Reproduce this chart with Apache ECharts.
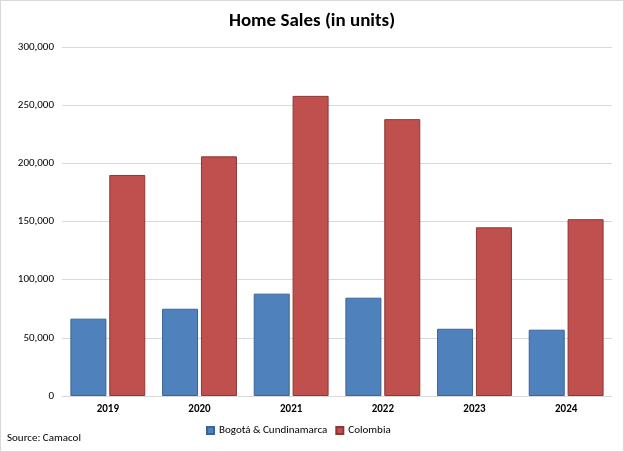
<!DOCTYPE html>
<html><head><meta charset="utf-8">
<script src="https://cdn.jsdelivr.net/npm/echarts@6/dist/echarts.min.js"></script>
<style>html,body{margin:0;padding:0;background:#fff}#c{width:622px;height:450px;border:1px solid #d9d9d9}</style>
</head><body><div id="c"></div>
<script>
const categories=['2019','2020','2021','2022','2023','2024'];
const bogota=[66500,75000,88000,84500,57800,57000];
const colombia=[190000,206000,258000,238000,145000,152000];
const chart=echarts.init(document.getElementById('c'));
const f='Calibri, Carlito, "Liberation Sans", sans-serif';
chart.setOption({
 animation:false,
 title:{text:'Home Sales (in units)',left:'center',top:6,textStyle:{fontFamily:f,fontSize:19,fontWeight:'bold',color:'#000'}},
 grid:{left:61,right:11,top:46,bottom:55},
 legend:{bottom:10,left:200,itemWidth:7,itemHeight:7,icon:'rect',textStyle:{fontFamily:f,fontSize:11,color:'#000'}},
 graphic:[{type:'text',left:6,bottom:7,style:{text:'Source: Camacol',fontFamily:f,fontSize:11,fill:'#000'}}],
 xAxis:{type:'category',data:categories,axisTick:{show:false},axisLine:{lineStyle:{color:'#d9d9d9'}},axisLabel:{fontFamily:f,fontSize:11,fontWeight:'bold',color:'#000'}},
 yAxis:{type:'value',min:0,max:300000,interval:50000,axisLabel:{fontFamily:f,fontSize:11,color:'#000',formatter:v=>v.toLocaleString('en-US')},splitLine:{lineStyle:{color:'#d9d9d9'}}},
 series:[
  {name:'Bogotá & Cundinamarca',type:'bar',data:bogota,barWidth:36,barGap:'8%',itemStyle:{color:'#4F81BD',borderColor:'#3A6496',borderWidth:1}},
  {name:'Colombia',type:'bar',data:colombia,barWidth:36,itemStyle:{color:'#C0504D',borderColor:'#8C3836',borderWidth:1}}
 ]
});
</script></body></html>
